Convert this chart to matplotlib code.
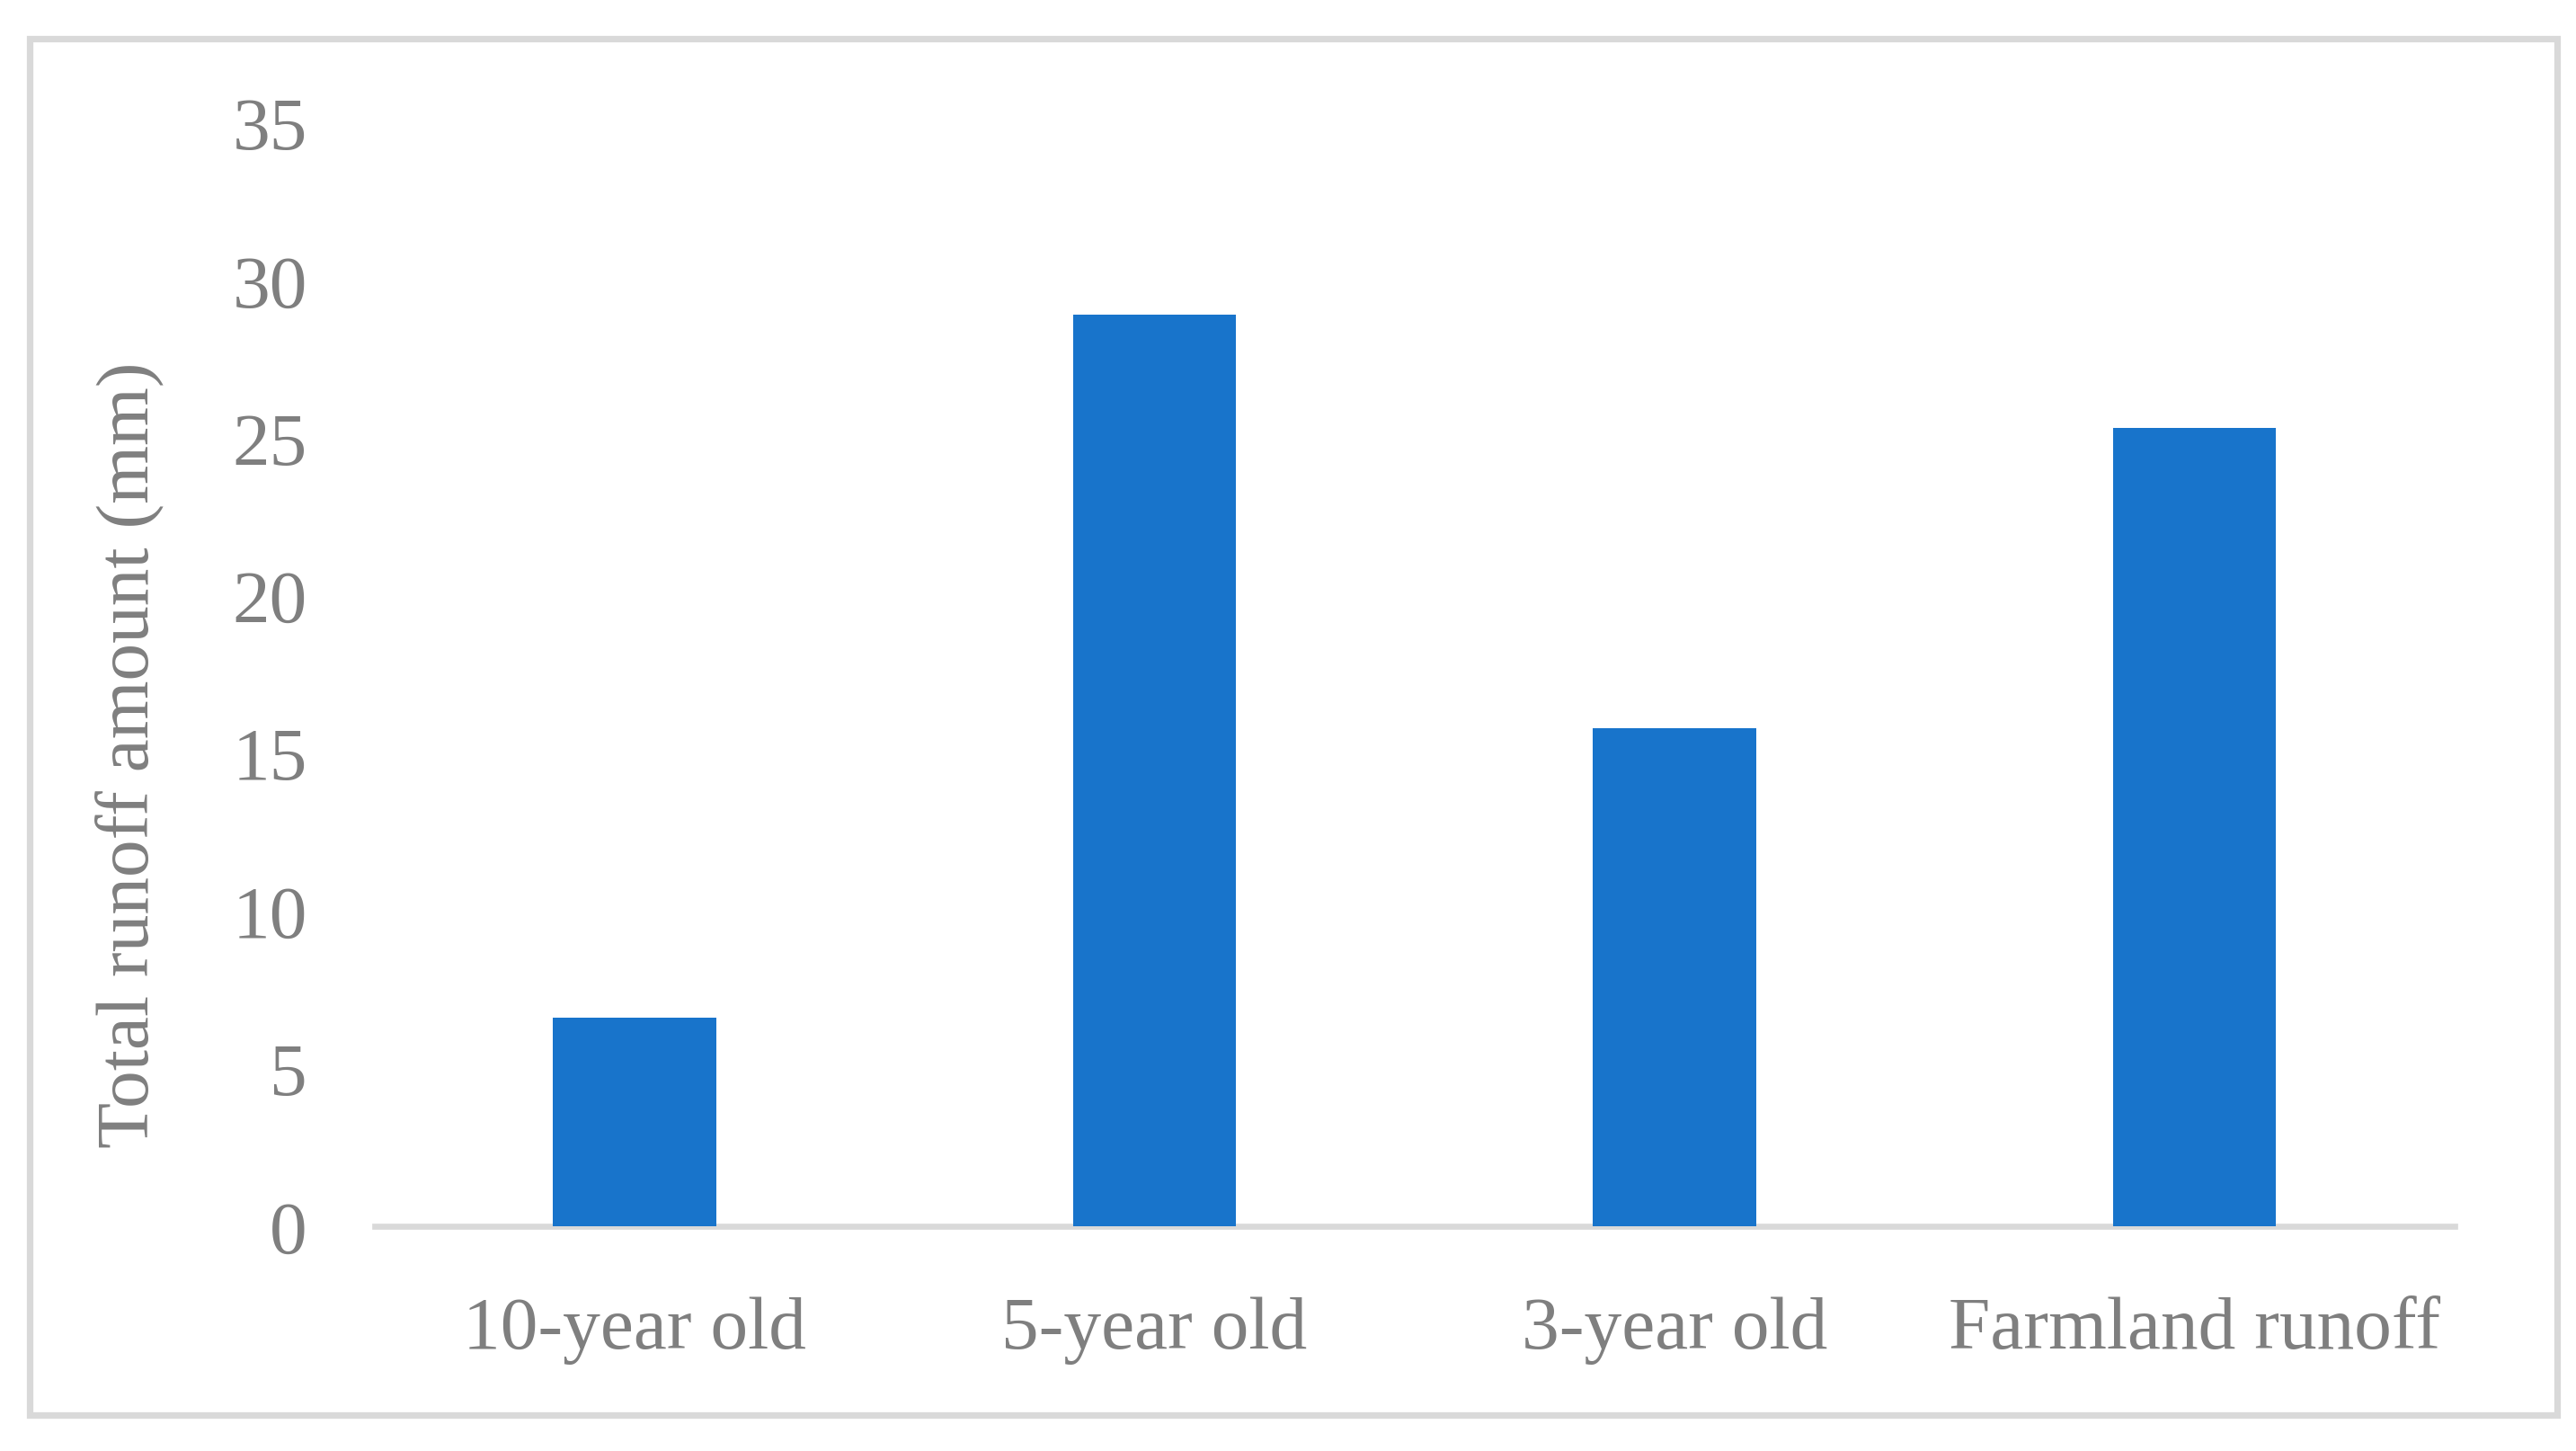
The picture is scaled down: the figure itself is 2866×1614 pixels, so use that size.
import matplotlib
matplotlib.use('Agg')
import matplotlib.pyplot as plt
from matplotlib.patches import Rectangle

# runoff per site type
categories = ['10-year old', '5-year old', '3-year old', 'Farmland runoff']
runoff = [6.6, 28.9, 15.8, 25.3]
yticks = [0, 5, 10, 15, 20, 25, 30, 35]

plt.rcParams['font.family'] = ['Liberation Serif', 'DejaVu Serif']

fig = plt.figure(figsize=(14.33, 8.075), dpi=200)
ax = fig.add_axes([0.1454, 0.155, 0.8074, 0.76])

ax.bar(range(len(categories)), runoff, width=0.313, color='#1874CB', zorder=2)

ax.set_xlim(-0.5, 3.5)
ax.set_ylim(0, 35)
ax.set_yticks(yticks)
ax.set_xticks(range(len(categories)))
ax.set_xticklabels(categories)

for s in ['top', 'right', 'left']:
    ax.spines[s].set_visible(False)
ax.spines['bottom'].set_color('#D9D9D9')
ax.spines['bottom'].set_linewidth(2.4)
ax.spines['bottom'].set_zorder(1)

ax.tick_params(axis='both', length=0, labelsize=30, labelcolor='#7F7F7F')
ax.tick_params(axis='y', pad=27)
ax.tick_params(axis='x', pad=28)

ax.set_ylabel('Total runoff amount (mm)', fontsize=30, color='#7F7F7F', va='center')
ax.yaxis.set_label_coords(-0.118, 0.428)

# outer chart border
fig.patches.append(Rectangle((0.0115, 0.0249), 0.981, 0.948, transform=fig.transFigure,
                             fill=False, edgecolor='#D9D9D9', linewidth=2.6))

fig.savefig('out.png', dpi=200)
